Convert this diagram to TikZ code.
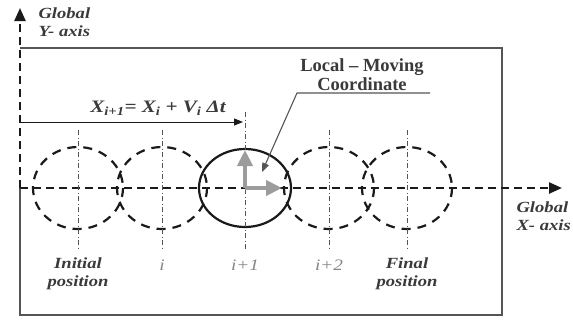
\documentclass[tikz,border=0pt]{standalone}
\usepackage{fontspec}
\setmainfont{Liberation Serif}
\newfontfamily\widefont[FakeStretch=1.2]{Liberation Serif}
\usetikzlibrary{arrows.meta, positioning, calc}
\definecolor{ink}{HTML}{1A1A1A}
\definecolor{framegray}{HTML}{555555}
\definecolor{txtgray}{HTML}{3A3A3A}
\definecolor{stepgray}{HTML}{858585}
\definecolor{arrgray}{HTML}{9C9C9C}

\begin{document}
\begin{tikzpicture}[x=1pt, y=-1pt, >={Triangle[length=13pt, width=11pt]},
  axisline/.style={draw=ink, line width=2.4pt, dash pattern=on 8pt off 5pt},
  pathring/.style={draw=ink, line width=2.2pt, dash pattern=on 9pt off 7pt},
  centerline/.style={draw=framegray, line width=0.9pt, dash pattern=on 5pt off 2.5pt on 1pt off 2.5pt},
  itlabel/.style={text=txtgray, font=\widefont\fontsize{15.5}{18}\selectfont\bfseries\itshape, align=center},
  steplabel/.style={text=stepgray, font=\widefont\fontsize{16}{18}\selectfont\itshape}]

\useasboundingbox (0,0) rectangle (573,322);

% Frame
\draw[framegray, line width=1.3pt] (20,48) -- (502,48) -- (502,315) -- (20,315) -- (20,188);

% Global axes
\coordinate (O) at (20,188);
\coordinate (ytip) at (20,8);
\coordinate (xtip) at (562,188);
\draw[axisline, ->] (O) -- (ytip);
\draw[axisline, ->] (O) -- (xtip);
\node[itlabel, align=left, anchor=west] (ylab) at (35,22) {Global\\Y- axis};
\node[itlabel, align=left, anchor=east, inner xsep=1pt] (xlab) at (572,216) {Global\\X- axis};

% Positions along the path
\foreach \cx/\nm in {78/p0, 162/p1, 329/p3, 407/p4} {
  \coordinate (\nm) at (\cx,188);
  \draw[pathring] (\nm) ellipse [x radius=45, y radius=41];
  \draw[centerline] (\cx,130) -- (\cx,250);
}
\coordinate (p2) at (245,188);
\draw[ink, line width=2.2pt] (p2) ellipse [x radius=46, y radius=39];
\draw[centerline] (245,112) -- (245,250);

% Labels under the positions
\node[itlabel] (init) at (78,274) {Initial\\position};
\node[steplabel] (si) at (162,265) {i};
\node[steplabel] (si1) at (245,265) {i+1};
\node[steplabel] (si2) at (329,265) {i+2};
\node[itlabel] (final) at (407,274) {Final\\position};

% Update rule
\node[itlabel, font=\widefont\fontsize{17.5}{20}\selectfont\bfseries\itshape] (rule) at (158,108)
  {X\textsubscript{i+1}= X\textsubscript{i} + V\textsubscript{i} Δt};
\coordinate (rulestart) at (20,122);
\coordinate (ruleend) at (243,122);
\draw[ink, line width=1pt, -{Triangle[length=9pt, width=7pt]}] (rulestart) -- (ruleend);

% Local moving frame
\coordinate (ux) at (282,188);
\coordinate (uy) at (245,150);
\draw[arrgray, line width=4pt, -{Triangle[length=16pt, width=15pt]}] (p2) -- (ux);
\draw[arrgray, line width=4pt, -{Triangle[length=16pt, width=15pt]}] (p2) -- (uy);

\node[text=txtgray, font=\fontsize{18.5}{19}\selectfont\bfseries, align=center] (lmc) at (362,75)
  {Local -- Moving\\Coordinate};
\coordinate (ulend) at (430,93);
\coordinate (ulbend) at (297,93);
\coordinate (lmctip) at (262,172);
\draw[framegray, line width=1.1pt, -{Triangle[length=9pt, width=7pt]}]
  (ulend) -- (ulbend) -- (lmctip);

\end{tikzpicture}
\end{document}
